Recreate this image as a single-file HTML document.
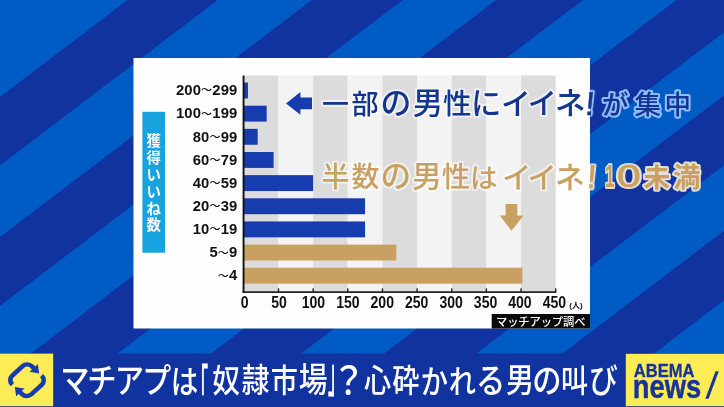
<!DOCTYPE html>
<html lang="ja">
<head>
<meta charset="utf-8">
<title>マチアプは「奴隷市場」？心砕かれる男の叫び</title>
<style>
html,body{margin:0;padding:0;background:#005CC4;overflow:hidden}
svg{display:block}
text{font-family:"Liberation Sans","Noto Sans CJK JP",sans-serif}
.ylab text{font-weight:700;font-size:14.8px;fill:#111;letter-spacing:0.15px}
.ylab tspan.w{font-size:11px;font-weight:500}
.xlab text{font-weight:700;font-size:15.6px;fill:#111}
.cap{font-family:"Noto Sans CJK JP","Liberation Sans",sans-serif;font-size:27.6px;font-weight:500}
.ex{font-family:'Liberation Sans',sans-serif;font-size:33px;font-weight:400}
.dg{font-family:'Liberation Sans',sans-serif;font-size:31px;font-weight:700}
.head{font-family:"Noto Sans CJK JP","Liberation Sans",sans-serif;font-size:30px;font-weight:500;fill:#fff}
</style>
</head>
<body>
<svg width="724" height="407" viewBox="0 0 724 407">
<defs>
<filter id="glow" color-interpolation-filters="sRGB" x="-5%" y="-20%" width="110%" height="140%"><feGaussianBlur stdDeviation="0.35"/></filter>
<filter id="soft" color-interpolation-filters="sRGB" filterUnits="userSpaceOnUse" x="-20" y="-20" width="764" height="447"><feGaussianBlur stdDeviation="0.4"/></filter>
<clipPath id="cin"><rect x="133.5" y="58" width="456.5" height="270.5"/></clipPath>
<clipPath id="cout"><rect x="590" y="58" width="134" height="270.5"/></clipPath>
</defs>
<g filter="url(#soft)">
<rect x="-20" y="-20" width="764" height="447" fill="#005CC4"/>
<polygon points="-30,119.8 167.1,-30 257.2,-30 -30,188.3" fill="#1033A0"/>
<polygon points="-30,259.8 351.3,-30 442.1,-30 -30,328.8" fill="#1033A0"/>
<polygon points="-30,399.8 535.5,-30 622.4,-30 -30,465.8" fill="#1033A0"/>
<polygon points="-30,536.8 715.8,-30 805.9,-30 -30,605.3" fill="#1033A0"/>
<polygon points="-30,668.3 888.8,-30 980.9,-30 -30,738.3" fill="#1033A0"/>
<polygon points="-30,803.8 1067.1,-30 1158.6,-30 -30,873.3" fill="#1033A0"/>
<!-- panel -->
<rect x="133.5" y="58" width="456.5" height="270.5" fill="#fefefe"/>
<rect x="243.80" y="75.5" width="34.65" height="216.10" fill="#dcdcdc"/>
<rect x="278.45" y="75.5" width="34.65" height="216.10" fill="#f3f3f3"/>
<rect x="313.10" y="75.5" width="34.65" height="216.10" fill="#dcdcdc"/>
<rect x="347.75" y="75.5" width="34.65" height="216.10" fill="#f3f3f3"/>
<rect x="382.40" y="75.5" width="34.65" height="216.10" fill="#dcdcdc"/>
<rect x="417.05" y="75.5" width="34.65" height="216.10" fill="#f3f3f3"/>
<rect x="451.70" y="75.5" width="34.65" height="216.10" fill="#dcdcdc"/>
<rect x="486.35" y="75.5" width="34.65" height="216.10" fill="#f3f3f3"/>
<rect x="521.00" y="75.5" width="34.65" height="216.10" fill="#dcdcdc"/>

<rect x="243.8" y="82.55" width="4.16" height="15.9" fill="#163CAE"/>
<rect x="243.8" y="105.70" width="22.87" height="15.9" fill="#163CAE"/>
<rect x="243.8" y="128.85" width="13.86" height="15.9" fill="#163CAE"/>
<rect x="243.8" y="152.00" width="29.80" height="15.9" fill="#163CAE"/>
<rect x="243.8" y="175.15" width="69.30" height="15.9" fill="#163CAE"/>
<rect x="243.8" y="198.30" width="121.27" height="15.9" fill="#163CAE"/>
<rect x="243.8" y="221.45" width="121.27" height="15.9" fill="#163CAE"/>
<rect x="243.8" y="244.60" width="152.46" height="15.9" fill="#C8A062"/>
<rect x="243.8" y="267.75" width="278.59" height="15.9" fill="#C8A062"/>

<rect x="242.6" y="75.5" width="1.9" height="217.30" fill="#111"/>
<rect x="242.6" y="291.3" width="313.75" height="1.6" fill="#111"/>
<rect x="277.85" y="288.40000000000003" width="1.3" height="3.4" fill="#111"/>
<rect x="312.50" y="288.40000000000003" width="1.3" height="3.4" fill="#111"/>
<rect x="347.15" y="288.40000000000003" width="1.3" height="3.4" fill="#111"/>
<rect x="381.80" y="288.40000000000003" width="1.3" height="3.4" fill="#111"/>
<rect x="416.45" y="288.40000000000003" width="1.3" height="3.4" fill="#111"/>
<rect x="451.10" y="288.40000000000003" width="1.3" height="3.4" fill="#111"/>
<rect x="485.75" y="288.40000000000003" width="1.3" height="3.4" fill="#111"/>
<rect x="520.40" y="288.40000000000003" width="1.3" height="3.4" fill="#111"/>
<rect x="555.05" y="288.40000000000003" width="1.3" height="3.4" fill="#111"/>

<g class="ylab">
<text x="237.4" y="95.25" text-anchor="end">200<tspan class="w" dy="-0.8">～</tspan><tspan dy="0.8">299</tspan></text>
<text x="237.4" y="118.40" text-anchor="end">100<tspan class="w" dy="-0.8">～</tspan><tspan dy="0.8">199</tspan></text>
<text x="237.4" y="141.55" text-anchor="end">80<tspan class="w" dy="-0.8">～</tspan><tspan dy="0.8">99</tspan></text>
<text x="237.4" y="164.70" text-anchor="end">60<tspan class="w" dy="-0.8">～</tspan><tspan dy="0.8">79</tspan></text>
<text x="237.4" y="187.85" text-anchor="end">40<tspan class="w" dy="-0.8">～</tspan><tspan dy="0.8">59</tspan></text>
<text x="237.4" y="211.00" text-anchor="end">20<tspan class="w" dy="-0.8">～</tspan><tspan dy="0.8">39</tspan></text>
<text x="237.4" y="234.15" text-anchor="end">10<tspan class="w" dy="-0.8">～</tspan><tspan dy="0.8">19</tspan></text>
<text x="237.4" y="257.30" text-anchor="end">5<tspan class="w" dy="-0.8">～</tspan><tspan dy="0.8">9</tspan></text>
<text x="237.4" y="280.45" text-anchor="end"><tspan class="w" dy="-0.8">～</tspan><tspan dy="0.8">4</tspan></text>
</g>
<g class="xlab">
<text transform="translate(244.60 307.8) scale(0.9 1)" text-anchor="middle">0</text>
<text transform="translate(279.02 307.8) scale(0.9 1)" text-anchor="middle">50</text>
<text transform="translate(313.44 307.8) scale(0.9 1)" text-anchor="middle">100</text>
<text transform="translate(347.86 307.8) scale(0.9 1)" text-anchor="middle">150</text>
<text transform="translate(382.28 307.8) scale(0.9 1)" text-anchor="middle">200</text>
<text transform="translate(416.70 307.8) scale(0.9 1)" text-anchor="middle">250</text>
<text transform="translate(451.12 307.8) scale(0.9 1)" text-anchor="middle">300</text>
<text transform="translate(485.54 307.8) scale(0.9 1)" text-anchor="middle">350</text>
<text transform="translate(519.96 307.8) scale(0.9 1)" text-anchor="middle">400</text>
<text transform="translate(554.38 307.8) scale(0.9 1)" text-anchor="middle">450</text>
</g>
<text x="576" y="307.8" text-anchor="middle" font-size="8" font-weight="700" fill="#111">(人)</text>
<!-- vertical axis title -->
<rect x="142.4" y="111.8" width="22.7" height="140.9" fill="#17A3DF"/>
<text x="153.8" y="129" text-anchor="middle" font-size="14.4" font-weight="700" fill="#fff" style="font-family:'Noto Sans CJK JP',sans-serif">
<tspan x="153.8" dy="16.9">獲</tspan><tspan x="153.8" dy="16.9">得</tspan><tspan x="153.8" dy="16.9">い</tspan><tspan x="153.8" dy="16.9">い</tspan><tspan x="153.8" dy="16.9">ね</tspan><tspan x="153.8" dy="16.9">数</tspan></text>
<!-- arrows -->
<polygon points="286,103.4 300.4,92 300.4,97.6 312,97.6 312,109.3 300.4,109.3 300.4,114.8" fill="#163CAE"/>
<polygon points="505.6,204 517.3,204 517.3,215.6 523.5,215.6 511.5,230.8 499.8,215.6 505.6,215.6" fill="#C8A062"/>
<!-- captions -->
<g class="cap">
<g clip-path="url(#cin)">
<text fill="none" stroke="#fff" stroke-width="3.8" stroke-linejoin="round" opacity="0.6" filter="url(#glow)"><tspan x="321.9" y="113.5" font-size="26.9">一</tspan><tspan x="351.4" y="113.5" font-size="27.1">部</tspan><tspan x="380.5" y="113.5" font-size="30.8">の</tspan><tspan x="412.8" y="113.5" font-size="30.3">男</tspan><tspan x="442.9" y="113.5" font-size="28.5">性</tspan><tspan x="471.1" y="114.3" font-size="30.3">に</tspan><tspan x="500.9" y="113.9" font-size="29.9">イ</tspan><tspan x="527.7" y="113.9" font-size="29.1">イ</tspan><tspan x="555.0" y="114.3" font-size="30.5">ネ</tspan><tspan x="601.9" y="114.0" font-size="26.5">が</tspan><tspan x="634.4" y="113.5" font-size="26.5">集</tspan><tspan x="664.5" y="113.5" font-size="26.5">中</tspan></text>
<text fill="none" stroke="#fff" stroke-width="3.8" stroke-linejoin="round" opacity="0.6" filter="url(#glow)"><tspan x="321.6" y="187.4" font-size="28.0">半</tspan><tspan x="351.6" y="187.4" font-size="27.9">数</tspan><tspan x="380.6" y="187.4" font-size="30.6">の</tspan><tspan x="412.1" y="187.4" font-size="29.8">男</tspan><tspan x="441.7" y="187.4" font-size="28.4">性</tspan><tspan x="470.0" y="187.9" font-size="27.6">は</tspan><tspan x="501.9" y="187.8" font-size="29.3">イ</tspan><tspan x="527.4" y="187.8" font-size="29.3">イ</tspan><tspan x="555.0" y="188.2" font-size="29.7">ネ</tspan></text>
<text transform="translate(584.6 114.6) skewX(-5)" class="ex" fill="none" stroke="#fff" stroke-width="3.8" stroke-linejoin="round" opacity="0.6" filter="url(#glow)">!</text>
<text transform="translate(586.3 188.4) skewX(-5)" class="ex" fill="none" stroke="#fff" stroke-width="3.8" stroke-linejoin="round" opacity="0.6" filter="url(#glow)">!</text>
</g>
<g clip-path="url(#cout)">
<text fill="none" stroke="#8cbcff" stroke-width="4.2" stroke-linejoin="round" opacity="1" filter="url(#glow)"><tspan x="321.9" y="113.5" font-size="26.9">一</tspan><tspan x="351.4" y="113.5" font-size="27.1">部</tspan><tspan x="380.5" y="113.5" font-size="30.8">の</tspan><tspan x="412.8" y="113.5" font-size="30.3">男</tspan><tspan x="442.9" y="113.5" font-size="28.5">性</tspan><tspan x="471.1" y="114.3" font-size="30.3">に</tspan><tspan x="500.9" y="113.9" font-size="29.9">イ</tspan><tspan x="527.7" y="113.9" font-size="29.1">イ</tspan><tspan x="555.0" y="114.3" font-size="30.5">ネ</tspan><tspan x="601.9" y="114.0" font-size="26.5">が</tspan><tspan x="634.4" y="113.5" font-size="26.5">集</tspan><tspan x="664.5" y="113.5" font-size="26.5">中</tspan></text>
<text transform="translate(584.6 114.6) skewX(-5)" class="ex" fill="none" stroke="#8cbcff" stroke-width="4.2" stroke-linejoin="round" opacity="1" filter="url(#glow)">!</text>
<text transform="translate(586.3 188.4) skewX(-5)" class="ex" fill="none" stroke="#f0e8da" stroke-width="4" stroke-linejoin="round" opacity="0.95" filter="url(#glow)">!</text>
<text fill="none" stroke="#f0e8da" stroke-width="4" stroke-linejoin="round" opacity="0.95" filter="url(#glow)" font-weight="700"><tspan x="643.4" y="186.5" font-size="26.7">未</tspan><tspan x="673.2" y="186.5" font-size="27.1">満</tspan></text>
<text transform="translate(605.1 187) scale(0.55 1)" class="dg" fill="none" stroke="#f0e8da" stroke-width="4" stroke-linejoin="round" opacity="0.95" filter="url(#glow)">1</text>
<text transform="translate(616.9 187) scale(1.38 1)" class="dg" style="font-weight:400" fill="none" stroke="#f0e8da" stroke-width="4" stroke-linejoin="round" opacity="0.95" filter="url(#glow)">0</text>
</g>
<text fill="#14358F"><tspan x="321.9" y="113.5" font-size="26.9">一</tspan><tspan x="351.4" y="113.5" font-size="27.1">部</tspan><tspan x="380.5" y="113.5" font-size="30.8">の</tspan><tspan x="412.8" y="113.5" font-size="30.3">男</tspan><tspan x="442.9" y="113.5" font-size="28.5">性</tspan><tspan x="471.1" y="114.3" font-size="30.3">に</tspan><tspan x="500.9" y="113.9" font-size="29.9">イ</tspan><tspan x="527.7" y="113.9" font-size="29.1">イ</tspan><tspan x="555.0" y="114.3" font-size="30.5">ネ</tspan><tspan x="601.9" y="114.0" font-size="26.5">が</tspan><tspan x="634.4" y="113.5" font-size="26.5">集</tspan><tspan x="664.5" y="113.5" font-size="26.5">中</tspan></text>
<text fill="#C8A062"><tspan x="321.6" y="187.4" font-size="28.0">半</tspan><tspan x="351.6" y="187.4" font-size="27.9">数</tspan><tspan x="380.6" y="187.4" font-size="30.6">の</tspan><tspan x="412.1" y="187.4" font-size="29.8">男</tspan><tspan x="441.7" y="187.4" font-size="28.4">性</tspan><tspan x="470.0" y="187.9" font-size="27.6">は</tspan><tspan x="501.9" y="187.8" font-size="29.3">イ</tspan><tspan x="527.4" y="187.8" font-size="29.3">イ</tspan><tspan x="555.0" y="188.2" font-size="29.7">ネ</tspan></text>
<text fill="#C8A062" font-weight="700"><tspan x="643.4" y="186.5" font-size="26.7">未</tspan><tspan x="673.2" y="186.5" font-size="27.1">満</tspan></text>
<text transform="translate(605.1 187) scale(0.55 1)" class="dg" fill="#C8A062">1</text>
<text transform="translate(616.9 187) scale(1.38 1)" class="dg" font-weight="400" style="font-weight:400" fill="#C8A062" stroke="#C8A062" stroke-width="0.5">0</text>
<text transform="translate(584.6 114.6) skewX(-5)" class="ex" fill="#14358F" stroke="#14358F" stroke-width="0.5">!</text>
<text transform="translate(586.3 188.4) skewX(-5)" class="ex" fill="#C8A062" stroke="#C8A062" stroke-width="0.5">!</text>
</g>
<!-- source label -->
<rect x="491.7" y="314" width="98.3" height="14.5" fill="#0a0a0a"/>
<text x="496" y="325.6" font-size="11.3" fill="#fff" textLength="89.5" lengthAdjust="spacing" style="font-family:'Noto Sans CJK JP',sans-serif;font-weight:500">マッチアップ調べ</text>
<!-- bottom bar -->
<rect x="-20" y="353.5" width="764" height="80" fill="#1033A0"/>
<rect x="-20" y="353.6" width="73.2" height="52.6" fill="#FDEC55"/>
<rect x="625.8" y="353.8" width="118.2" height="52.4" fill="#FDEC55"/>
<g class="head">
<g transform="translate(0 392.4) scale(0.85 1)"><text ><tspan x="70.8" y="1.0" font-size="34.5">マ</tspan><tspan x="102.8" y="1.0" font-size="34.5">チ</tspan><tspan x="135.1" y="1.0" font-size="34.5">ア</tspan><tspan x="167.4" y="1.0" font-size="34.1">プ</tspan><tspan x="200.9" y="1.0" font-size="32.4">は</tspan><tspan x="249.8" y="0.0" font-size="32.3">奴</tspan><tspan x="284.4" y="0.0" font-size="32.7">隷</tspan><tspan x="318.6" y="0.0" font-size="32">市</tspan><tspan x="351.4" y="0.0" font-size="33.9">場</tspan><tspan x="428.3" y="0.0" font-size="32">心</tspan><tspan x="461.6" y="0.0" font-size="32">砕</tspan><tspan x="495.1" y="1.0" font-size="32">か</tspan><tspan x="528.0" y="1.0" font-size="32">れ</tspan><tspan x="559.9" y="1.0" font-size="34.5">る</tspan><tspan x="595.2" y="0.0" font-size="33.1">男</tspan><tspan x="626.3" y="1.0" font-size="34.5">の</tspan><tspan x="660.0" y="0.0" font-size="32">叫</tspan><tspan x="692.9" y="1.0" font-size="33.9">び</tspan></text></g>
<text transform="translate(191.6 404.3) scale(0.5 1.4)" font-size="33" stroke="#fff" stroke-width="0.7" vector-effect="non-scaling-stroke">「</text>
<text transform="translate(328 390.9) scale(0.5 1.4)" font-size="33" stroke="#fff" stroke-width="0.7" vector-effect="non-scaling-stroke">」</text>
<text transform="translate(331.4 394.4) scale(0.9 1)" font-size="38">？</text>
</g>
<!-- icon -->
<g transform="translate(27 380.2) scale(1.01 0.955) rotate(46)" fill="none" stroke="#163CAE" stroke-width="4.6" stroke-linecap="butt" stroke-linejoin="round">
<path d="M-6.6,13.6 A6.5,6.5 0 0 1 -13.6,7.1 L-13.6,-7.1 A6.5,6.5 0 0 1 -7.1,-13.6 L-4,-13.6"/>
<path d="M6.6,-13.6 A6.5,6.5 0 0 1 13.6,-7.1 L13.6,7.1 A6.5,6.5 0 0 1 7.1,13.6 L4,13.6"/>
<polygon points="-4.6,-19.3 -4.6,-7.9 3.3,-13.6" fill="#163CAE" stroke="none"/>
<polygon points="4.6,19.3 4.6,7.9 -3.3,13.6" fill="#163CAE" stroke="none"/>
</g>
<!-- logo -->
<text x="633.8" y="376.5" font-size="17.6" font-weight="700" fill="#17349A" stroke="#17349A" stroke-width="0.3" stroke-linejoin="round" textLength="60.6" lengthAdjust="spacingAndGlyphs">ABEMA</text>
<text transform="translate(632.8 397.6) scale(0.805 1)" font-size="34" font-weight="700" fill="#17349A" stroke="#17349A" stroke-width="0.5" stroke-linejoin="round">news</text>
<text transform="translate(705.2 398.2) skewX(-13) scale(0.74 1)" font-size="37" font-weight="700" fill="#17349A">/</text>
</g>
</svg>
</body>
</html>
